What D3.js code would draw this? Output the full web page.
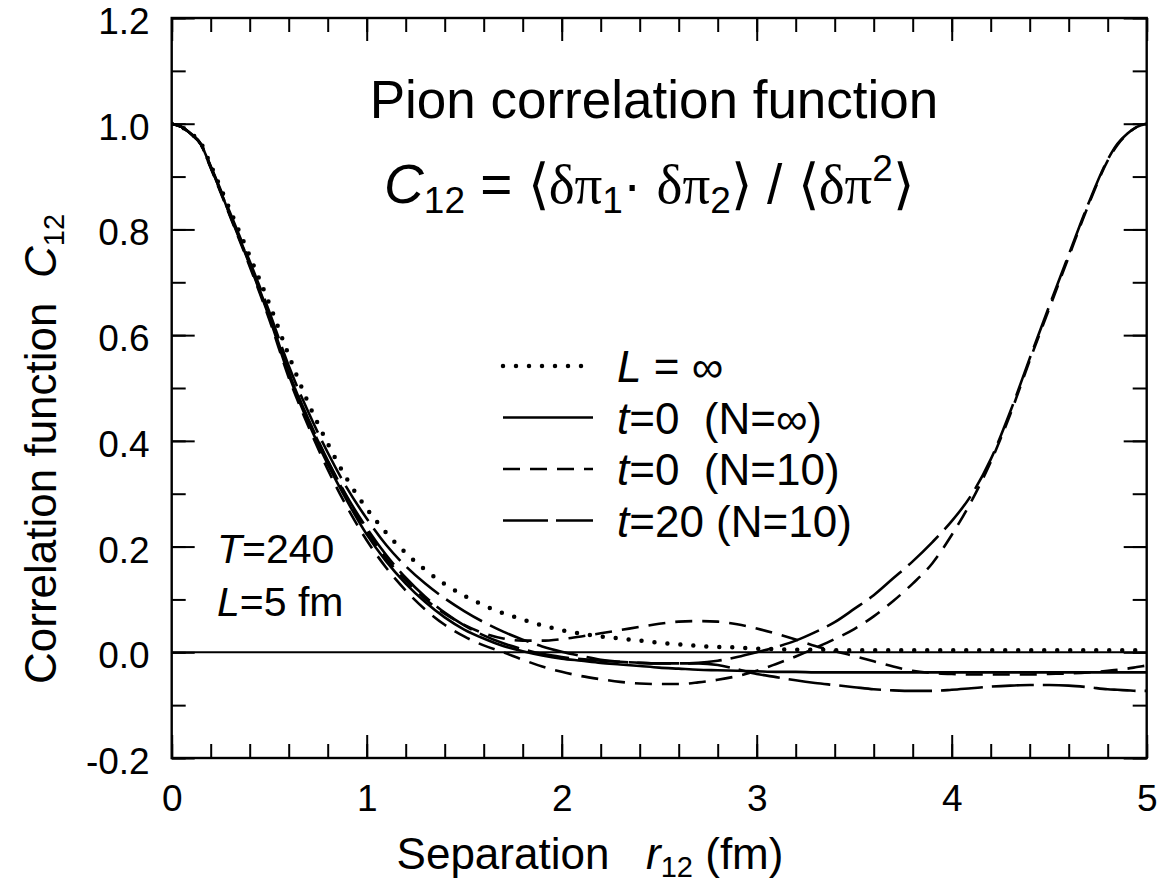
<!DOCTYPE html>
<html><head><meta charset="utf-8">
<script src="https://cdn.jsdelivr.net/npm/d3@7"></script>
<style>
body{margin:0;background:#fff}
text{font-family:"Liberation Sans",Arial,sans-serif;fill:#000;white-space:pre}
</style>
</head><body>
<svg id="c" width="1162" height="888" xmlns="http://www.w3.org/2000/svg"></svg>
<script>
// ---- data ----
const xGrid = [0,0.05,0.1,0.15,0.2,0.3,0.4,0.5,0.6,0.7,0.8,0.9,1.0,1.1,1.2,1.3,1.4,1.5,1.6,1.7,1.8,1.9,2.0,2.1,2.2,2.3,2.4,2.5,2.6,2.7,2.8,2.9,3.0,3.1,3.2,3.3,3.4,3.5,3.6,3.7,3.8,3.9,4.0,4.1,4.2,4.3,4.4,4.5,4.6,4.7,4.8,4.85,4.9,4.95,5.0];

const cLinf = [1.0,0.994,0.981,0.963,0.922,
 0.836,0.75,0.66,0.562,0.472,0.395,0.327,
 0.272,0.226,0.188,0.156,0.129,0.107,0.089,0.074,0.062,0.051,
 0.042,0.035,0.03,0.026,0.022,0.018,0.015,0.012,0.01,0.009,
 0.007,0.006,0.005,0.005,0.004,0.004,0.004,0.004,0.004,0.004,
 0.004,0.004,0.004,0.004,0.004,0.004,0.004,0.004,0.004,
 0.004,0.004,0.004,0.004];

const cT0Ninf = [1.0,0.994,0.98,0.961,0.918,
 0.826,0.733,0.634,0.525,0.435,0.356,0.286,
 0.223,0.172,0.13,0.095,0.066,0.043,0.026,0.012,0.002,-0.006,
 -0.012,-0.016,-0.02,-0.023,-0.026,-0.029,-0.031,-0.033,-0.034,-0.035,
 -0.036,-0.037,-0.037,-0.038,-0.038,-0.038,-0.038,-0.038,-0.038,-0.038,
 -0.038,-0.038,-0.038,-0.038,-0.038,-0.038,-0.038,-0.038,-0.038,
 -0.038,-0.038,-0.038,-0.038];

const cT0N10a = [1.0,0.994,0.98,0.961,0.918,
 0.827,0.735,0.637,0.53,0.44,0.362,0.292,
 0.23,0.178,0.136,0.101,0.073,0.052,0.036,0.026,0.022,0.022,
 0.025,0.03,0.036,0.042,0.048,0.054,0.058,0.059,0.058,0.053,
 0.045,0.035,0.024,0.012,0.002,-0.007,-0.017,-0.027,-0.035,-0.039,
 -0.041,-0.042,-0.042,-0.042,-0.042,-0.041,-0.04,-0.038,-0.035,
 -0.033,-0.031,-0.028,-0.025];

const cT0N10b = [1.0,0.994,0.98,0.96,0.916,
 0.824,0.73,0.63,0.52,0.428,0.346,0.274,
 0.212,0.16,0.117,0.081,0.052,0.03,0.013,0.0,-0.014,-0.027,
 -0.037,-0.045,-0.051,-0.056,-0.059,-0.06,-0.06,-0.057,-0.052,-0.045,
 -0.035,-0.022,-0.008,0.008,0.025,0.044,0.068,0.097,0.13,0.168,
 0.222,0.285,0.36,0.45,0.552,0.65,0.748,0.845,0.93,
 0.96,0.98,0.994,1.0];

const cT20N10a = [1.0,0.994,0.98,0.961,0.918,
 0.827,0.735,0.637,0.53,0.442,0.363,0.294,
 0.235,0.184,0.141,0.105,0.075,0.051,0.032,0.017,0.006,-0.003,
 -0.009,-0.013,-0.016,-0.018,-0.02,-0.021,-0.021,-0.02,-0.016,-0.009,
 0.0,0.01,0.022,0.038,0.057,0.082,0.108,0.14,0.172,0.208,
 0.248,0.297,0.365,0.455,0.556,0.655,0.752,0.848,0.932,
 0.962,0.981,0.994,1.0];

const cT20N10b = [1.0,0.994,0.981,0.962,0.92,
 0.831,0.74,0.645,0.542,0.455,0.378,0.31,
 0.253,0.203,0.163,0.13,0.102,0.078,0.057,0.039,0.024,0.011,
 0.001,-0.007,-0.014,-0.018,-0.02,-0.021,-0.021,-0.021,-0.024,-0.032,
 -0.041,-0.047,-0.053,-0.058,-0.062,-0.066,-0.07,-0.072,-0.073,-0.073,
 -0.071,-0.068,-0.065,-0.063,-0.062,-0.062,-0.063,-0.066,-0.07,
 -0.071,-0.072,-0.073,-0.073];

const xTickValues = [0,1,2,3,4,5];
const xTickLabels = ["0","1","2","3","4","5"];
const yTickValues = [-0.2,0,0.2,0.4,0.6,0.8,1.0,1.2];
const yTickLabels = ["-0.2","0.0","0.2","0.4","0.6","0.8","1.0","1.2"];

// ---- styles ----
const styles = {
  dotted: {dash:"0 13", width:4.5, cap:"round"},
  solid:  {dash:null, width:2.6, cap:"butt"},
  short:  {dash:"17 10", width:2.6, cap:"butt"},
  long:   {dash:"42 9", width:2.6, cap:"butt"}
};
const curves = [
  {v:cLinf, s:"dotted"},
  {v:cT0Ninf, s:"solid"},
  {v:cT0N10a, s:"short"},
  {v:cT0N10b, s:"short"},
  {v:cT20N10a, s:"long"},
  {v:cT20N10b, s:"long"}
];

const L = 171.7, R = 1146.7, T = 18, B = 758;
const x = d3.scaleLinear().domain([0,5]).range([L,R]);
const y = d3.scaleLinear().domain([-0.2,1.2]).range([B,T]);
const svg = d3.select("#c");

svg.append("clipPath").attr("id","clip").append("rect")
  .attr("x",L).attr("y",T).attr("width",R-L).attr("height",B-T);

// ticks (inward, all four sides)
const minorX = d3.range(0,5.0001,0.2).map(d=>+d.toFixed(2));
const minorY = d3.range(-0.2,1.2001,0.1).map(d=>+d.toFixed(2));
function tickAxis(axisFn, scale, vals, size, tr){
  const g = svg.append("g").attr("transform",tr)
    .call(axisFn(scale).tickValues(vals).tickSize(-size).tickFormat(""));
  g.select(".domain").remove();
  g.selectAll(".tick line").attr("stroke","#000").attr("stroke-width",2);
  return g;
}
tickAxis(d3.axisBottom, x, minorX, 14, `translate(0,${B})`);
tickAxis(d3.axisBottom, x, xTickValues, 23, `translate(0,${B})`);
tickAxis(d3.axisTop, x, minorX, 14, `translate(0,${T})`);
tickAxis(d3.axisTop, x, xTickValues, 23, `translate(0,${T})`);
tickAxis(d3.axisLeft, y, minorY, 14, `translate(${L},0)`);
tickAxis(d3.axisLeft, y, yTickValues, 23, `translate(${L},0)`);
tickAxis(d3.axisRight, y, minorY, 14, `translate(${R},0)`);
tickAxis(d3.axisRight, y, yTickValues, 23, `translate(${R},0)`);

// labelled axes
const gx = svg.append("g").attr("transform",`translate(0,${B})`)
  .call(d3.axisBottom(x).tickValues(xTickValues).tickSize(0).tickPadding(27)
    .tickFormat((d,i)=>xTickLabels[i]));
gx.select(".domain").remove();
gx.selectAll("text").attr("font-size",37).attr("font-family",'"Liberation Sans",Arial,sans-serif');
const gy = svg.append("g").attr("transform",`translate(${L},0)`)
  .call(d3.axisLeft(y).tickValues(yTickValues).tickSize(0).tickPadding(22)
    .tickFormat((d,i)=>yTickLabels[i]));
gy.select(".domain").remove();
gy.selectAll("text").attr("font-size",37).attr("dy","0.42em")
  .attr("font-family",'"Liberation Sans",Arial,sans-serif');

// zero line
svg.append("line").attr("x1",x(0)).attr("x2",x(5)).attr("y1",y(0)).attr("y2",y(0))
  .attr("stroke","#000").attr("stroke-width",2);

// curves
const line = d3.line().x((d,i)=>x(xGrid[i])).y(d=>y(d)).curve(d3.curveMonotoneX);
const gc = svg.append("g").attr("clip-path","url(#clip)");
curves.forEach(c=>{
  const st = styles[c.s];
  const p = gc.append("path").attr("d",line(c.v)).attr("fill","none")
    .attr("stroke","#000").attr("stroke-width",st.width).attr("stroke-linecap",st.cap)
    .attr("stroke-linejoin","round");
  if(st.dash) p.attr("stroke-dasharray",st.dash);
});

// frame
svg.append("rect").attr("x",L).attr("y",T).attr("width",R-L).attr("height",B-T)
  .attr("fill","none").attr("stroke","#000").attr("stroke-width",2.4);

// title & formula
svg.append("text").attr("x",654).attr("y",118).attr("text-anchor","middle")
  .attr("font-size",53).text("Pion correlation function");

const f = svg.append("text").attr("x",649).attr("y",203).attr("text-anchor","middle").attr("font-size",55);
const serif = '"Liberation Serif","Times New Roman",serif';
f.append("tspan").attr("font-style","italic").text("C");
f.append("tspan").attr("font-size",37).attr("dy",10).text("12");
f.append("tspan").attr("dy",-10).text(" = ");
f.append("tspan").attr("font-family",serif).text("\u27E8δπ");
f.append("tspan").attr("font-size",37).attr("dy",10).text("1");
f.append("tspan").attr("dy",-10).text("· ");
f.append("tspan").attr("font-family",serif).text("δπ");
f.append("tspan").attr("font-size",37).attr("dy",10).text("2");
f.append("tspan").attr("dy",-10).attr("font-family",serif).text("\u27E9");
f.append("tspan").text(" / ");
f.append("tspan").attr("font-family",serif).text("\u27E8δπ");
f.append("tspan").attr("font-size",37).attr("dy",-22).text("2");
f.append("tspan").attr("dy",22).attr("font-family",serif).text("\u27E9");

// legend
const legend = [
  {s:"dotted", parts:[["L","italic"],[" = ∞",null]]},
  {s:"solid",  parts:[["t","italic"],["=0  (N=∞)",null]]},
  {s:"short",  parts:[["t","italic"],["=0  (N=10)",null]]},
  {s:"long",   parts:[["t","italic"],["=20 (N=10)",null]]}
];
const legY0 = 366, legDy = 51.5;
legend.forEach((e,i)=>{
  const yy = legY0 + i*legDy;
  const st = styles[e.s];
  const ln = svg.append("line").attr("x1",503).attr("x2",593).attr("y1",yy).attr("y2",yy)
    .attr("stroke","#000").attr("stroke-width",st.width).attr("stroke-linecap",st.cap);
  if(st.dash) ln.attr("stroke-dasharray", e.s==="long" ? "45 8" : st.dash);
  const t = svg.append("text").attr("x",617).attr("y",yy+16).attr("font-size",44);
  e.parts.forEach(p=>{ const ts=t.append("tspan").text(p[0]); if(p[1]) ts.attr("font-style",p[1]); });
});

// annotation
const a1 = svg.append("text").attr("x",217).attr("y",563).attr("font-size",41);
a1.append("tspan").attr("font-style","italic").text("T");
a1.append("tspan").text("=240");
const a2 = svg.append("text").attr("x",217).attr("y",616).attr("font-size",41);
a2.append("tspan").attr("font-style","italic").text("L");
a2.append("tspan").text("=5 fm");

// axis titles
const xt = svg.append("text").attr("x",590).attr("y",869).attr("text-anchor","middle").attr("font-size",44);
xt.append("tspan").text("Separation   ");
xt.append("tspan").attr("font-style","italic").text("r");
xt.append("tspan").attr("font-size",29).attr("dy",8).text("12");
xt.append("tspan").attr("dy",-8).text(" (fm)");

const yt = svg.append("text").attr("transform","translate(56,449) rotate(-90)")
  .attr("text-anchor","middle").attr("font-size",44);
yt.append("tspan").text("Correlation function  ");
yt.append("tspan").attr("font-style","italic").text("C");
yt.append("tspan").attr("font-size",29).attr("dy",8).text("12");
</script>
</body></html>
